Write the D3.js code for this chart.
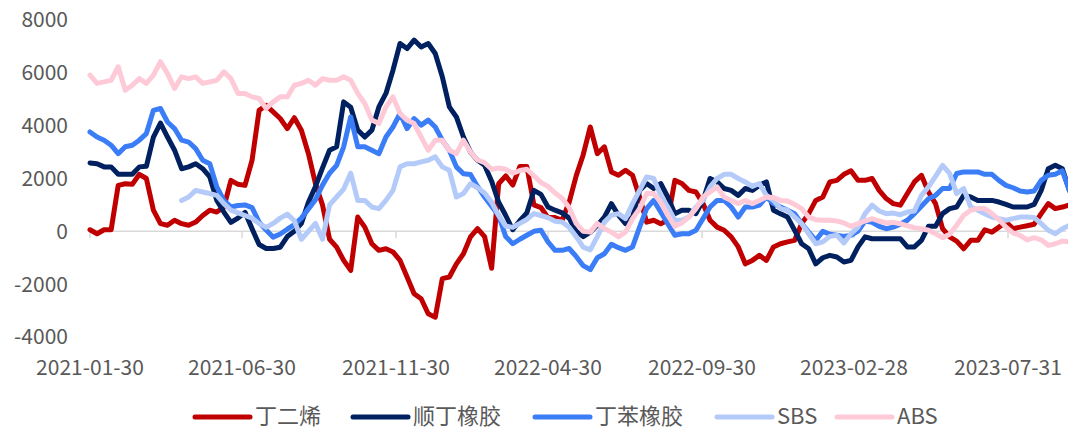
<!DOCTYPE html>
<html>
<head>
<meta charset="utf-8">
<script src="https://cdn.jsdelivr.net/npm/d3@7/dist/d3.min.js"></script>
<style>
  body { margin: 0; background: #fff; }
  text { font-family: "Noto Sans CJK SC", "Noto Sans", sans-serif; fill: #595959; }
</style>
</head>
<body>
<div id="chart"></div>
<script>
const width = 1068;
const height = 432;

// weekly samples starting on this date
const startDate = "2021-01-30";
const tickLabels = ["2021-01-30", "2021-06-30", "2021-11-30", "2022-04-30", "2022-09-30", "2023-02-28", "2023-07-31"];
const yTicks = [-4000, -2000, 0, 2000, 4000, 6000, 8000];

const seriesNames = ["丁二烯", "顺丁橡胶", "丁苯橡胶", "SBS", "ABS"];
const seriesColors = ["#C00000", "#002060", "#3A7DF7", "#B4CBFA", "#FFCAD8"];

const butadiene = [
  60, -90, 60, 60, 1740, 1800, 1780, 2160, 2000, 800, 290, 230, 420, 290, 230, 350, 600, 800, 730, 920,
  1930, 1780, 1740, 2690, 4580, 4770, 4520, 4270, 3890, 4300, 3830, 2940, 1800, 1000, -300,
  -600, -1100, -1480, 540, 160, -470, -720, -660, -780, -1100, -1730, -2360, -2550, -3120, -3250,
  -1790, -1730, -1230, -850, -210, 100, -200, -1400, 1800, 2100, 1750, 2450, 2450, 1000, 900, 520, 520, 420, 1100,
  2100,
  2900, 3950, 2940, 3200, 2250, 2120, 2310, 2120, 1300, 350, 420, 290, 420, 1930, 1810, 1550, 1490, 1050, 420, 160,
  40, -210, -590, -1230, -1100, -910, -1100, -590, -470, -400, -340, 290, 670, 1170,
  1300,
  1870, 1930, 2160, 2290, 1930, 1930, 2000, 1550, 1240, 1050, 990, 1430, 1870, 2120, 1490, 1050, 100, -210, -370, -660,
  -340, -340, 60, -30, 160, 350, 100, 160, 210, 270, 670, 1050, 860, 920,
  1000
];

const brRubber = [
  2590, 2560, 2440, 2440, 2160, 2160, 2160, 2440, 2460, 3570, 4100, 3570, 3070, 2370, 2440, 2560, 2370, 2060, 1170, 730,
  340, 500, 720, 100, -500, -650, -650, -600, -200, 0, 300, 1100, 1700, 2400, 3070,
  3200, 4900, 4700, 3830, 3570, 3830, 4710, 5220, 6100, 7110, 6920, 7240, 6980, 7110, 6730,
  5850, 4710, 4330, 3570, 3000, 2690, 2500, 1900, 1100, 600, 60, 400, 700, 1550, 1400, 920, 800, 700, 500,
  0,
  -200, -30, 230, 540, 1050, 610, 290, 540, 1550, 1810, 1620, 1810, 1300, 670, 800, 800, 670, 1170, 2000, 1870,
  1620, 1550, 1360, 1620, 1550, 1740, 1870, 800, 670, 540, 40, -470, -660, -1230,
  -1000,
  -910, -970, -1160, -1100, -590, -210, -280, -280, -280, -280, -280, -590, -590, -340, 190, 190, 670, 860, 920, 1360,
  1300, 1170, 1170, 1170, 1110, 1020, 920, 920, 920, 1020, 1550, 2370, 2500, 2370,
  1550
];

const sbrRubber = [
  3760, 3570, 3450, 3260, 2940, 3200, 3260, 3450, 3700, 4580, 4650, 4140, 3890, 3450, 3380, 3130, 2690, 2560, 1680, 1170,
  920, 980, 1000, 900, 350, 50, -220, -100, 80, 250, 500, 850, 1200, 1750, 2200,
  2500, 3200, 4330, 3200, 3200, 3070, 2940, 3570, 3950, 4460, 3890, 4270, 4020, 4210, 3950,
  3450, 3070, 2440, 2180, 2150, 1700, 1300, 950, 600, -200, -470, -300, -150, 0, 40, -400, -720, -720, -650,
  -950,
  -1300, -1450, -1000, -850, -490, -620, -720, -590, 160, 860, 1170, 730, 290, -150, -90, -90, 40, 480, 920, 1170,
  1170, 920, 540, 920, 920, 990, 1300, 1050, 920, 800, 670, 290, -30, -340,
  0,
  -110, -150, -190, -150, 10, 390, 340, 190, 100, 160, 270, 420, 670, 950, 1230, 1360, 1620, 1620, 2190, 2250,
  2250, 2250, 2160, 2160, 1930, 1740, 1650, 1530, 1490, 1530, 1930, 2120, 2160, 2290,
  1550
];

const sbs = [
  null, null, null, null, null, null, null, null, null, null, null, null, null,
  1170, 1300, 1550, 1490, 1430, 1360, 1050,
  800, 700, 600, 500, 300, 150, 300, 500, 650, 400, -300, 0, 300, -300, 1000,
  1300, 1600, 2200, 1170, 1170, 920, 860, 1170, 1550, 2440, 2560, 2560, 2630, 2690, 2820,
  2440, 2310, 1300, 1430, 1800, 1650, 1450, 1100, 600, 200, 150, 300, 450, 670, 600, 520, 380, 350, 150,
  -200,
  -600, -700, -200, 350, 610, 670, 480, 1050, 1550, 2060, 2000, 1360, 920, 420, 420, 540, 920, 1170, 1680, 2000,
  2160, 2160, 2000, 1870, 1700, 1810, 1360, 1170, 860, 800, 540, 290, -90, -470,
  -400,
  -190, -150, -440, -90, 160, 670, 990, 770, 670, 690, 630, 730, 770, 1360, 1680, 2080, 2500, 2190, 1430, 1620,
  920, 800, 670, 540, 480, 420, 480, 540, 540, 520, 290, 40, -90, 100,
  230
];

const abs = [
  5910, 5600, 5660, 5720, 6230, 5340, 5530, 5780, 5600, 5910, 6420, 5970, 5410, 5850, 5780, 5850, 5600, 5660, 5720, 6040,
  5780, 5220, 5220, 5090, 5030, 4650, 4900, 5090, 5090, 5530, 5600, 5720, 5530, 5780, 5720,
  5720, 5850, 5720, 5220, 4840, 4210, 4080, 4710, 5090, 4460, 4210, 4080, 3570, 3070, 3450,
  3450, 3070, 2940, 3450, 3000, 2700, 2600, 2350, 2400, 2350, 2200, 2300, 2350, 2100, 1850, 1700, 1450, 1250, 900,
  300,
  0, -30, 300, 100, -30, -210, -30, 480, 860, 1430, 1430, 1110, 610, 190, 320, 540, 860, 1300, 1490, 1680,
  1300, 1170, 1050, 1170, 1050, 1170, 1300, 1280, 1170, 1150, 1020, 860, 540, 440,
  420,
  420, 390, 320, 190, 290, 390, 480, 390, 320, 340, 290, 210, 140, 100, 40, -90, -240, -110, 230, 610,
  800, 860, 860, 670, 440, 160, -60, -150, -320, -240, -320, -530, -470, -370,
  -400
];

const seriesValues = [butadiene, brRubber, sbrRubber, sbs, abs];

// legend item left edges
const legendX = [195, 353, 535, 717, 837];

const parse = d3.timeParse("%Y-%m-%d");
const t0 = parse(startDate);
const dates = butadiene.map((_, i) => d3.timeDay.offset(t0, 7 * i));

const svg = d3.select("#chart")
    .append("svg")
    .attr("width", width)
    .attr("height", height)
    .style("background", "#fff");

const x = d3.scaleTime()
    .domain([parse(tickLabels[0]), parse(tickLabels[tickLabels.length - 1])])
    .range([90, 1008]);

const y = d3.scaleLinear()
    .domain([-4000, 8000])
    .range([337, 20]);

// y labels
svg.append("g")
    .selectAll("text")
    .data(yTicks)
    .enter()
    .append("text")
    .attr("x", 68)
    .attr("y", d => y(d))
    .attr("dy", "0.35em")
    .attr("text-anchor", "end")
    .style("font-size", "21px")
    .text(d => d);

// zero line with ticks
svg.append("line")
    .attr("x1", x(parse(tickLabels[0])))
    .attr("x2", 1066)
    .attr("y1", y(0))
    .attr("y2", y(0))
    .attr("stroke", "#D9D9D9")
    .attr("stroke-width", 1.5);

svg.append("g")
    .selectAll("line")
    .data(tickLabels)
    .enter()
    .append("line")
    .attr("x1", d => x(parse(d)))
    .attr("x2", d => x(parse(d)))
    .attr("y1", y(0))
    .attr("y2", y(0) + 7)
    .attr("stroke", "#D9D9D9")
    .attr("stroke-width", 1.5);

// x labels at the bottom
svg.append("g")
    .selectAll("text")
    .data(tickLabels)
    .enter()
    .append("text")
    .attr("x", d => x(parse(d)))
    .attr("y", 375)
    .attr("text-anchor", "middle")
    .style("font-size", "21px")
    .text(d => d);

// lines
const line = d3.line()
    .defined(d => d.v !== null)
    .x(d => x(d.date))
    .y(d => y(d.v));

svg.append("g")
    .selectAll("path")
    .data(seriesValues)
    .enter()
    .append("path")
    .attr("d", vals => line(vals.map((v, i) => ({ date: dates[i], v: v }))))
    .attr("fill", "none")
    .attr("stroke", (d, i) => seriesColors[i])
    .attr("stroke-width", 5)
    .attr("stroke-linejoin", "round")
    .attr("stroke-linecap", "round");

// legend
const legend = svg.append("g")
    .selectAll("g")
    .data(seriesNames)
    .enter()
    .append("g")
    .attr("transform", (d, i) => `translate(${legendX[i]},417)`);

legend.append("line")
    .attr("x1", 0)
    .attr("x2", 55)
    .attr("stroke", (d, i) => seriesColors[i])
    .attr("stroke-width", 5)
    .attr("stroke-linecap", "round");

legend.append("text")
    .attr("x", 60)
    .attr("dy", "0.33em")
    .style("font-size", "22px")
    .text(d => d);
</script>
</body>
</html>
